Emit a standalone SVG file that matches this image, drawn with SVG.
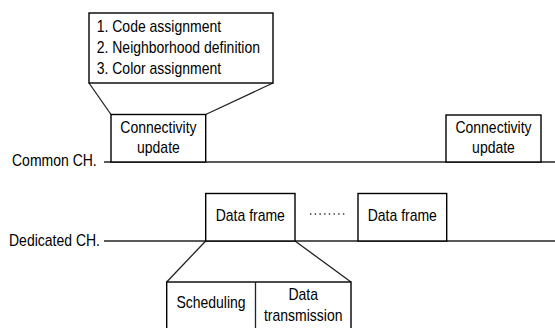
<svg xmlns="http://www.w3.org/2000/svg" width="555" height="328" viewBox="0 0 555 328">
  <style>
    .box { fill: #ffffff; stroke: #000000; stroke-width: 1.4; }
    .wire { fill: none; stroke: #222222; stroke-width: 1.3; }
    .lbl { font-family: "Liberation Sans", Arial, sans-serif; font-size: 14px; fill: #000000; }
    .mid { text-anchor: middle; }
  </style>
  <rect width="555" height="328" fill="#ffffff"/>

  <!-- channel lines and callout connectors -->
  <g id="connectors">
    <line class="wire" x1="104" y1="162" x2="555" y2="162"/>
    <line class="wire" x1="104" y1="241" x2="555" y2="241"/>
    <line class="wire" x1="89" y1="83" x2="111" y2="114.5"/>
    <line class="wire" x1="273" y1="83" x2="205.7" y2="114.5"/>
    <line class="wire" x1="205.7" y1="241" x2="166.7" y2="282"/>
    <line class="wire" x1="295" y1="241" x2="351" y2="282"/>
    <line id="ellipsis" x1="310" y1="214" x2="345" y2="214" stroke="#333333" stroke-width="1.4" stroke-dasharray="1.4 3.3"/>
  </g>

  <!-- channel labels -->
  <g id="common-ch">
    <text class="lbl" transform="translate(12,166) scale(1,1.2)">Common CH.</text>
  </g>
  <g id="dedicated-ch">
    <text class="lbl" transform="translate(9,246) scale(1,1.2)">Dedicated CH.</text>
  </g>

  <!-- connectivity update steps -->
  <g id="steps">
    <rect class="box" x="89" y="13" width="184" height="70"/>
    <text class="lbl" transform="translate(96.7,32.3) scale(1,1.2)">1. Code assignment</text>
    <text class="lbl" transform="translate(96.7,53.3) scale(1,1.2)">2. Neighborhood definition</text>
    <text class="lbl" transform="translate(96.7,74) scale(1,1.2)">3. Color assignment</text>
  </g>

  <g id="connectivity-update-1">
    <rect class="box" x="111" y="114.5" width="94.7" height="47.5"/>
    <text class="lbl mid" transform="translate(158.4,133.3) scale(1,1.2)">Connectivity</text>
    <text class="lbl mid" transform="translate(158.4,152.7) scale(1,1.2)">update</text>
  </g>

  <g id="connectivity-update-2">
    <rect class="box" x="446" y="115" width="95" height="47"/>
    <text class="lbl mid" transform="translate(493.5,133.3) scale(1,1.2)">Connectivity</text>
    <text class="lbl mid" transform="translate(493.5,152.7) scale(1,1.2)">update</text>
  </g>

  <g id="data-frame-1">
    <rect class="box" x="205.7" y="193.5" width="89.3" height="47.5"/>
    <text class="lbl mid" transform="translate(250.3,221.3) scale(1,1.2)">Data frame</text>
  </g>

  <g id="data-frame-2">
    <rect class="box" x="358" y="193.5" width="88.7" height="47.5"/>
    <text class="lbl mid" transform="translate(402.3,221.3) scale(1,1.2)">Data frame</text>
  </g>

  <!-- frame breakdown -->
  <g id="frame-detail">
    <rect class="box" x="166.7" y="282" width="184.3" height="50"/>
    <line class="wire" x1="255.5" y1="282" x2="255.5" y2="332"/>
    <text class="lbl mid" transform="translate(211,308.3) scale(1,1.2)">Scheduling</text>
    <text class="lbl mid" transform="translate(303.2,300) scale(1,1.2)">Data</text>
    <text class="lbl mid" transform="translate(303.2,321) scale(1,1.2)">transmission</text>
  </g>
</svg>
